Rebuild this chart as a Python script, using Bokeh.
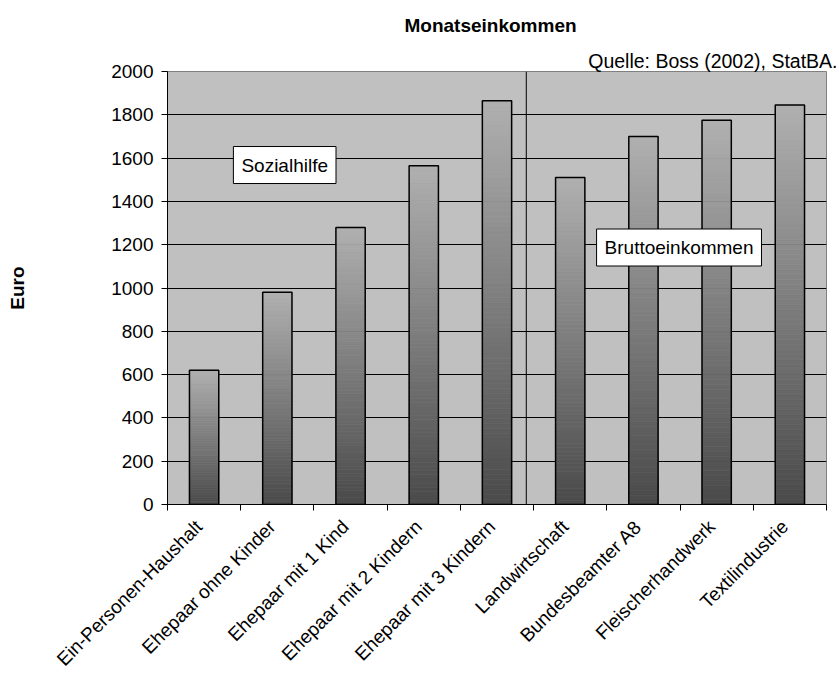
import math
import numpy as np
from bokeh.plotting import figure
from bokeh.models import ColumnDataSource, FixedTicker, Label, Span, Title
from bokeh.embed import file_html
from bokeh.resources import INLINE

# --- data -------------------------------------------------------------
categories = [
    "Ein-Personen-Haushalt",
    "Ehepaar ohne Kinder",
    "Ehepaar mit 1 Kind",
    "Ehepaar mit 2 Kindern",
    "Ehepaar mit 3 Kindern",
    "Landwirtschaft",
    "Bundesbeamter A8",
    "Fleischerhandwerk",
    "Textilindustrie",
]
sozialhilfe = [620, 980, 1280, 1565, 1865]
bruttoeinkommen = [1510, 1700, 1775, 1845]
y_ticks = [0, 200, 400, 600, 800, 1000, 1200, 1400, 1600, 1800, 2000]

values = sozialhilfe + bruttoeinkommen
FONT = "Liberation Sans"
FS = "19px"

# --- figure -----------------------------------------------------------
p = figure(
    width=839, height=680,
    x_range=(0, len(categories)), y_range=(0, 2000),
    output_backend="svg", toolbar_location=None, title=None,
    min_border_left=167, min_border_right=13,
    min_border_top=71, min_border_bottom=176,
)
p.background_fill_color = "#c0c0c0"
p.border_fill_color = "white"
p.outline_line_color = "#808080"
p.outline_line_width = 1

# headings above the plot area (first added sits nearest the frame)
p.add_layout(Title(text="Quelle: Boss (2002), StatBA.", align="right", offset=-11,
                   standoff=0, text_font=FONT, text_font_size="19.5px",
                   text_font_style="normal", text_color="black"), "above")
p.add_layout(Title(text="Monatseinkommen", align="left", offset=237,
                   standoff=24, text_font=FONT, text_font_size=FS,
                   text_font_style="bold", text_color="black"), "above")

# horizontal grid lines
p.xgrid.visible = False
p.ygrid.ticker = FixedTicker(ticks=y_ticks[1:-1])
p.ygrid.grid_line_color = "black"
p.ygrid.grid_line_width = 1

# --- bars with vertical shading (light top, dark bottom) ---------------
top_rgb = np.array([176, 176, 176])
bot_rgb = np.array([74, 74, 74])
n_slices = 80
bar_w = 0.4
lefts, rights, bottoms, tops, colors = [], [], [], [], []
for i, v in enumerate(values):
    edges = np.linspace(0, v, n_slices + 1)
    for k in range(n_slices):
        frac = (k + 0.5) / n_slices  # 0 at bottom, 1 at top
        c = bot_rgb + (top_rgb - bot_rgb) * frac
        lefts.append(i + 0.5 - bar_w / 2)
        rights.append(i + 0.5 + bar_w / 2)
        bottoms.append(edges[k])
        tops.append(edges[k + 1])
        colors.append("#%02x%02x%02x" % tuple(int(round(x)) for x in c))

shade = ColumnDataSource(dict(left=lefts, right=rights, bottom=bottoms, top=tops, color=colors))
p.quad(left="left", right="right", bottom="bottom", top="top", source=shade,
       fill_color="color", line_color="color", line_width=0.6)

bars = ColumnDataSource(dict(x=[i + 0.5 for i in range(len(values))], top=values))
p.vbar(x="x", top="top", width=bar_w, source=bars,
       fill_color=None, line_color="black", line_width=1.5)

# divider between the two groups
p.add_layout(Span(location=len(sozialhilfe) - 0.1, dimension="height",
                  line_color="black", line_width=1))

# --- axes -------------------------------------------------------------
# category names hang slightly left of each slot centre; ticks sit on slot borders
xa = p.xaxis[0]
label_pos = [round(i + 0.43, 2) for i in range(len(categories))]
xa.ticker = FixedTicker(ticks=label_pos, minor_ticks=list(range(len(categories) + 1)))
xa.major_label_overrides = {c: name for c, name in zip(label_pos, categories)}
xa.major_label_orientation = math.pi / 4
xa.major_tick_out = 0
xa.major_tick_in = 0
xa.minor_tick_out = 6
xa.minor_tick_in = 0
xa.minor_tick_line_color = "black"
xa.axis_line_color = "black"
xa.major_label_text_font = FONT
xa.major_label_text_font_size = FS
xa.major_label_text_color = "black"
xa.major_label_standoff = 13

ya = p.yaxis[0]
ya.ticker = FixedTicker(ticks=y_ticks)
ya.major_tick_out = 6
ya.major_tick_in = 0
ya.minor_tick_line_color = None
ya.major_tick_line_color = "black"
ya.axis_line_color = "black"
ya.major_label_text_font = FONT
ya.major_label_text_font_size = FS
ya.major_label_text_color = "black"
ya.major_label_standoff = 8
ya.axis_label = "Euro"
ya.axis_label_text_font = FONT
ya.axis_label_text_font_size = FS
ya.axis_label_text_font_style = "bold"
ya.axis_label_text_color = "black"
ya.axis_label_standoff = 80

# --- boxed captions inside the plot ------------------------------------
p.add_layout(Label(x=0.90, y=1568, text="Sozialhilfe", text_align="left",
                   text_baseline="middle", text_font=FONT, text_font_size=FS,
                   text_color="black", background_fill_color="white",
                   border_line_color="black", border_line_width=1, padding=8))
p.add_layout(Label(x=5.86, y=1187, text="Bruttoeinkommen", text_align="left",
                   text_baseline="middle", text_font=FONT, text_font_size=FS,
                   text_color="black", background_fill_color="white",
                   border_line_color="black", border_line_width=1, padding=8))

open("out.html", "w").write(file_html(p, INLINE))
